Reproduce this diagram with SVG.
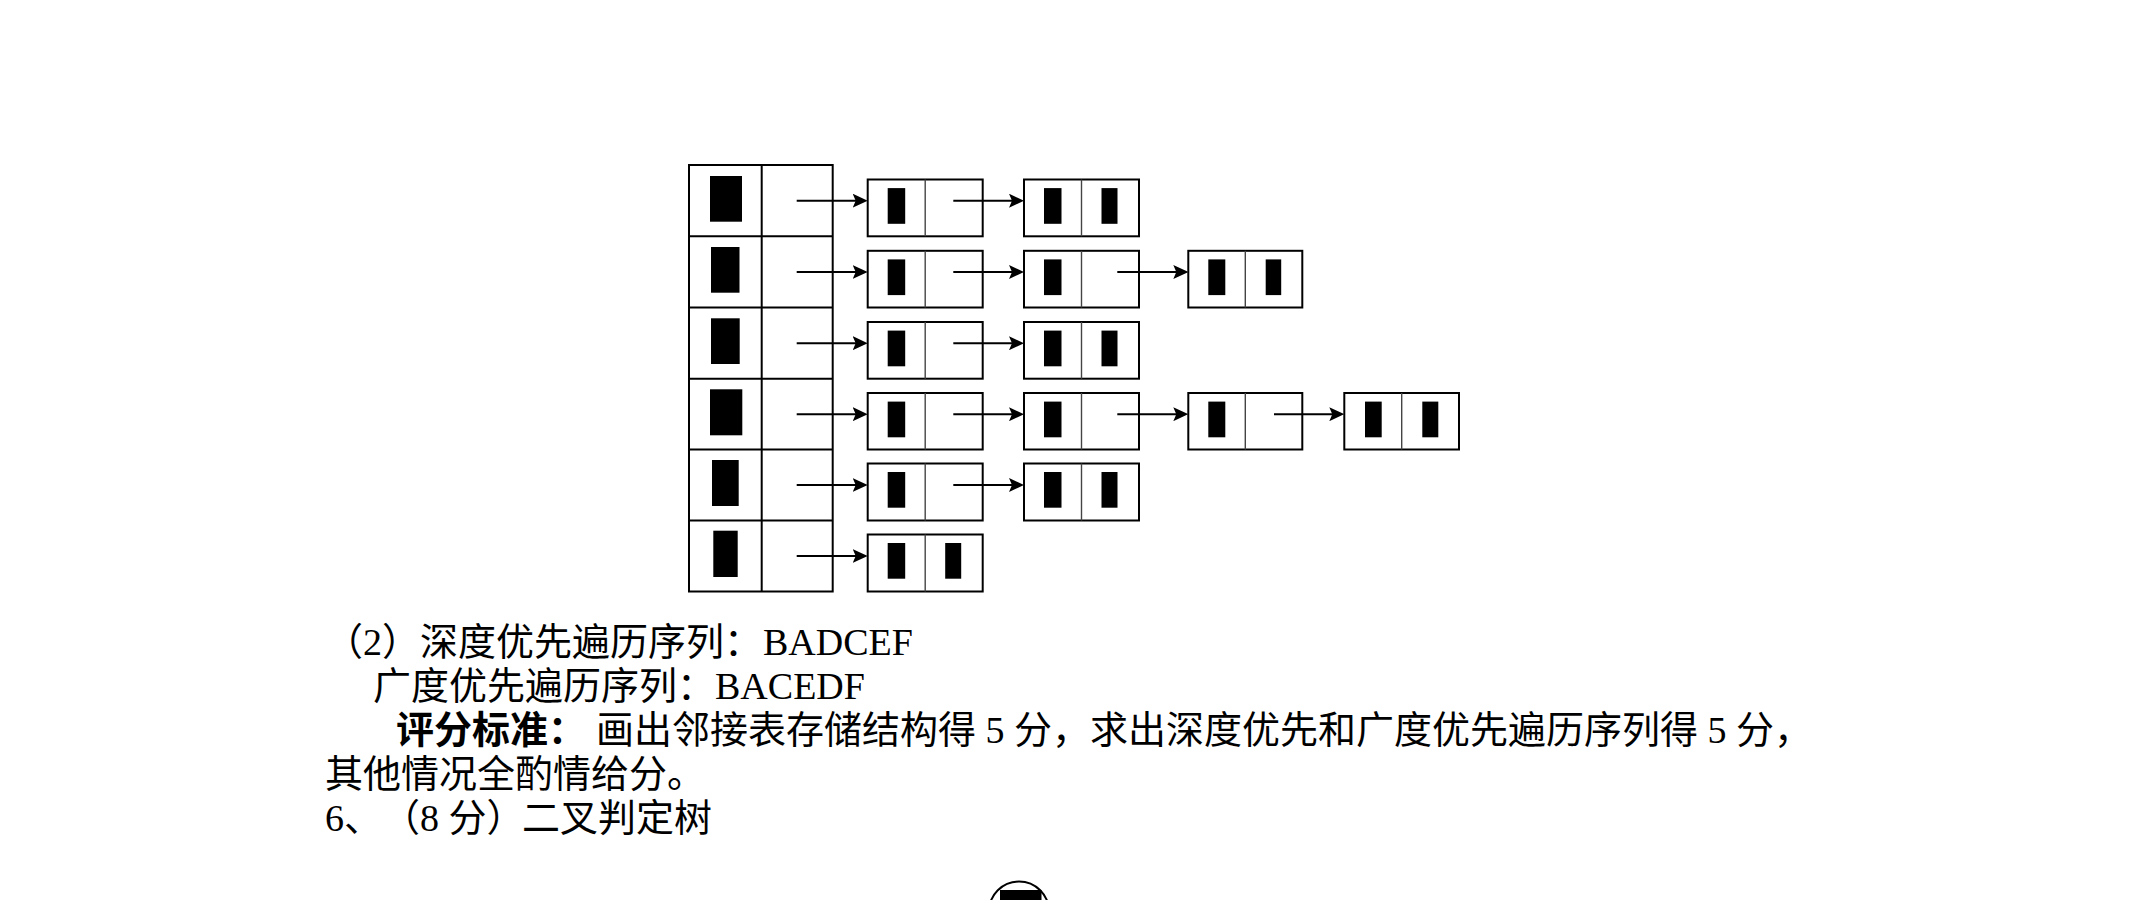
<svg xmlns="http://www.w3.org/2000/svg" width="2149" height="900" viewBox="0 0 2149 900">
<style>
.frame{fill:#fff;stroke:#000;stroke-width:2}
.div{stroke:#444;stroke-width:1.4}
.blk{fill:#000}
.edge{stroke:#000;stroke-width:2;fill:none;marker-end:url(#ah)}
.t{font-family:"Liberation Serif","Noto Sans CJK SC",serif;font-size:38px;fill:#000;text-spacing-trim:space-all}
.b{font-weight:bold}
</style>
<defs>
<marker id="ah" viewBox="0 0 15 14" refX="11" refY="7" markerWidth="15" markerHeight="14" markerUnits="userSpaceOnUse" orient="auto">
<path d="M0,0 L15,7 L0,14 L3,7 Z" fill="#000"/>
</marker>
</defs>
<rect width="2149" height="900" fill="#fff"/>

<g id="head">
<rect class="frame" x="689" y="165" width="143.7" height="426.5"/>
<line x1="761.7" y1="165" x2="761.7" y2="591.5" stroke="#000" stroke-width="2"/>
<g stroke="#000" stroke-width="2">
<line x1="689" y1="236.3" x2="832.7" y2="236.3"/>
<line x1="689" y1="307.5" x2="832.7" y2="307.5"/>
<line x1="689" y1="378.7" x2="832.7" y2="378.7"/>
<line x1="689" y1="449.5" x2="832.7" y2="449.5"/>
<line x1="689" y1="520.5" x2="832.7" y2="520.5"/>
</g>
<g id="head-0"><rect class="blk" x="710" y="176" width="32" height="45.7"/></g>
<g id="head-1"><rect class="blk" x="711" y="247" width="28.5" height="45.7"/></g>
<g id="head-2"><rect class="blk" x="711" y="318.3" width="28.7" height="45.7"/></g>
<g id="head-3"><rect class="blk" x="710" y="389.3" width="32.3" height="46"/></g>
<g id="head-4"><rect class="blk" x="712" y="460" width="26.7" height="46"/></g>
<g id="head-5"><rect class="blk" x="713.3" y="530.7" width="24.4" height="46.3"/></g>
</g>

<!-- row 0 -->
<g id="n-0-0"><rect class="frame" x="867.7" y="179.5" width="115" height="56.8"/><line class="div" x1="925.2" y1="179.5" x2="925.2" y2="236.3"/><rect class="blk" x="887.7" y="188.1" width="17.5" height="35.7"/></g>
<g id="n-0-1"><rect class="frame" x="1024" y="179.5" width="115" height="56.8"/><line class="div" x1="1081.5" y1="179.5" x2="1081.5" y2="236.3"/><rect class="blk" x="1044" y="188.1" width="17.5" height="35.7"/><rect class="blk" x="1101.5" y="188.1" width="16" height="35.7"/></g>
<!-- row 1 -->
<g id="n-1-0"><rect class="frame" x="867.7" y="250.8" width="115" height="56.7"/><line class="div" x1="925.2" y1="250.8" x2="925.2" y2="307.5"/><rect class="blk" x="887.7" y="259.4" width="17.5" height="35.7"/></g>
<g id="n-1-1"><rect class="frame" x="1024" y="250.8" width="115" height="56.7"/><line class="div" x1="1081.5" y1="250.8" x2="1081.5" y2="307.5"/><rect class="blk" x="1044" y="259.4" width="17.5" height="35.7"/></g>
<g id="n-1-2"><rect class="frame" x="1188.3" y="250.8" width="114" height="56.7"/><line class="div" x1="1245.3" y1="250.8" x2="1245.3" y2="307.5"/><rect class="blk" x="1208.3" y="259.4" width="17" height="35.7"/><rect class="blk" x="1265.7" y="259.4" width="15.5" height="35.7"/></g>
<!-- row 2 -->
<g id="n-2-0"><rect class="frame" x="867.7" y="322" width="115" height="56.7"/><line class="div" x1="925.2" y1="322" x2="925.2" y2="378.7"/><rect class="blk" x="887.7" y="330.6" width="17.5" height="35.7"/></g>
<g id="n-2-1"><rect class="frame" x="1024" y="322" width="115" height="56.7"/><line class="div" x1="1081.5" y1="322" x2="1081.5" y2="378.7"/><rect class="blk" x="1044" y="330.6" width="17.5" height="35.7"/><rect class="blk" x="1101.5" y="330.6" width="16" height="35.7"/></g>
<!-- row 3 -->
<g id="n-3-0"><rect class="frame" x="867.7" y="393" width="115" height="56.5"/><line class="div" x1="925.2" y1="393" x2="925.2" y2="449.5"/><rect class="blk" x="887.7" y="401.6" width="17.5" height="35.7"/></g>
<g id="n-3-1"><rect class="frame" x="1024" y="393" width="115" height="56.5"/><line class="div" x1="1081.5" y1="393" x2="1081.5" y2="449.5"/><rect class="blk" x="1044" y="401.6" width="17.5" height="35.7"/></g>
<g id="n-3-2"><rect class="frame" x="1188.3" y="393" width="114" height="56.5"/><line class="div" x1="1245.3" y1="393" x2="1245.3" y2="449.5"/><rect class="blk" x="1208.3" y="401.6" width="17" height="35.7"/></g>
<g id="n-3-3"><rect class="frame" x="1344.3" y="393" width="114.7" height="56.5"/><line class="div" x1="1401.7" y1="393" x2="1401.7" y2="449.5"/><rect class="blk" x="1365" y="401.6" width="16.7" height="35.7"/><rect class="blk" x="1422.3" y="401.6" width="16" height="35.7"/></g>
<!-- row 4 -->
<g id="n-4-0"><rect class="frame" x="867.7" y="463.5" width="115" height="57"/><line class="div" x1="925.2" y1="463.5" x2="925.2" y2="520.5"/><rect class="blk" x="887.7" y="472" width="17.5" height="35.7"/></g>
<g id="n-4-1"><rect class="frame" x="1024" y="463.5" width="115" height="57"/><line class="div" x1="1081.5" y1="463.5" x2="1081.5" y2="520.5"/><rect class="blk" x="1044" y="472" width="17.5" height="35.7"/><rect class="blk" x="1101.5" y="472" width="16" height="35.7"/></g>
<!-- row 5 -->
<g id="n-5-0"><rect class="frame" x="867.7" y="534.5" width="115" height="57"/><line class="div" x1="925.2" y1="534.5" x2="925.2" y2="591.5"/><rect class="blk" x="887.7" y="543" width="17.5" height="35.7"/><rect class="blk" x="945.2" y="543" width="16" height="35.7"/></g>

<g id="connectors">
<line class="edge" x1="796.7" y1="200.7" x2="863.7" y2="200.7"/>
<line class="edge" x1="953.3" y1="200.7" x2="1020" y2="200.7"/>

<line class="edge" x1="796.7" y1="272" x2="863.7" y2="272"/>
<line class="edge" x1="953.3" y1="272" x2="1020" y2="272"/>
<line class="edge" x1="1117.3" y1="272" x2="1184.3" y2="272"/>

<line class="edge" x1="796.7" y1="343.2" x2="863.7" y2="343.2"/>
<line class="edge" x1="953.3" y1="343.2" x2="1020" y2="343.2"/>

<line class="edge" x1="796.7" y1="414.2" x2="863.7" y2="414.2"/>
<line class="edge" x1="953.3" y1="414.2" x2="1020" y2="414.2"/>
<line class="edge" x1="1117.3" y1="414.2" x2="1184.3" y2="414.2"/>
<line class="edge" x1="1274" y1="414.2" x2="1340.3" y2="414.2"/>

<line class="edge" x1="796.7" y1="485" x2="863.7" y2="485"/>
<line class="edge" x1="953.3" y1="485" x2="1020" y2="485"/>

<line class="edge" x1="796.7" y1="556" x2="863.7" y2="556"/>
</g>

<g id="text">
<text class="t" y="655"><tspan x="325">（</tspan><tspan x="363">2</tspan><tspan x="382">）</tspan><tspan x="420">深度优先遍历序列：</tspan><tspan x="763">BADCEF</tspan></text>
<text class="t" y="699"><tspan x="373">广度优先遍历序列：</tspan><tspan x="715">BACEDF</tspan></text>
<text class="t" y="743"><tspan class="b" x="396">评分标准：</tspan><tspan x="596">画出邻接表存储结构得 5 分，求出深度优先和广度优先遍历序列得 5 分，</tspan></text>
<text class="t" x="325" y="787">其他情况全酌情给分。</text>
<text class="t" y="831"><tspan x="325">6</tspan><tspan x="344">、</tspan><tspan x="382">（</tspan><tspan x="420">8 分</tspan><tspan x="486.5">）</tspan><tspan x="522">二叉判定树</tspan></text>
</g>

<g id="tree-root">
<circle cx="1019" cy="911.5" r="30" fill="#fff" stroke="#000" stroke-width="2"/>
<rect class="blk" x="1000" y="890" width="41.5" height="20"/>
</g>
</svg>
